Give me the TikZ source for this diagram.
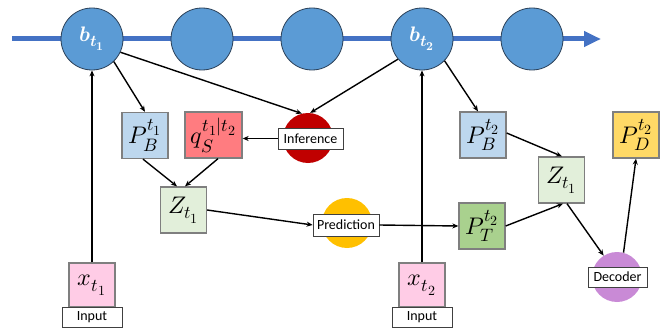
\documentclass[tikz,border=0pt]{standalone}
\usepackage{fontspec}
\usepackage{unicode-math}
\setsansfont{Carlito}
\DeclareMathSizes{24}{24}{18}{14}
\DeclareMathSizes{21}{21}{16}{12}
\usetikzlibrary{arrows.meta}
\definecolor{bcol}{HTML}{5B9BD5}
\definecolor{bdraw}{HTML}{2A3F57}
\definecolor{lcol}{HTML}{4472C4}
\definecolor{boxgray}{HTML}{7F7F7F}
\definecolor{pbcol}{HTML}{BDD7EE}
\definecolor{qcol}{HTML}{FF7C80}
\definecolor{zcol}{HTML}{E2EFDA}
\definecolor{xcol}{HTML}{FFCCE6}
\definecolor{ptcol}{HTML}{A9D18E}
\definecolor{pdcol}{HTML}{FFD966}
\definecolor{infcol}{HTML}{C00000}
\definecolor{predcol}{HTML}{FFC000}
\definecolor{deccol}{HTML}{C98AD6}
\begin{document}
\begin{tikzpicture}[x=1pt,y=-1pt,
  bnode/.style={circle, fill=bcol, draw=bdraw, line width=0.8pt, minimum size=62pt, inner sep=0pt, text=white, font=\fontsize{21}{24}\selectfont},
  vbox/.style={draw=boxgray, line width=1.3pt, minimum width=46pt, minimum height=46pt, inner sep=0pt, font=\fontsize{24}{28}\selectfont},
  blob/.style={circle, minimum size=50pt, inner sep=0pt},
  tag/.style={draw=black!75, fill=white, line width=0.8pt, inner sep=0pt, font=\sffamily\fontsize{14}{16}\selectfont},
  conn/.style={line width=1.4pt, -{Stealth[length=6pt,width=5pt]}}
]
\useasboundingbox (0,0) rectangle (667,329);
% timeline
\coordinate (ls) at (12,39);
\coordinate (le) at (601,39);
\draw[line width=5pt, color=lcol, -{Triangle[length=17pt,width=15pt]}] (ls) -- (le);
\node[bnode] (bt1) at (92,39) {$\symbfit{b}_{\symbfit{t}_{\symbf{1}}}$};
\node[bnode] (c2) at (202,39) {};
\node[bnode] (c3) at (312,39) {};
\node[bnode] (bt2) at (422,39) {$\symbfit{b}_{\symbfit{t}_{\symbf{2}}}$};
\node[bnode] (c5) at (532,39) {};
% blobs
\node[blob, fill=infcol] (infc) at (308,138) {};
\node[tag, minimum width=65pt, minimum height=21pt] (inflab) at (310.5,138.5) {Inference};
\node[blob, fill=predcol] (predc) at (347,223) {};
\node[tag, minimum width=66pt, minimum height=22pt] (predlab) at (346,225) {Prediction};
\node[blob, fill=deccol] (decc) at (617,277) {};
\node[tag, minimum width=59pt, minimum height=20pt] (declab) at (617.5,277) {Decoder};
% boxes
\node[vbox, fill=pbcol] (PB1) at (145,135.5) {$P_B^{t_1}$};
\node[vbox, fill=qcol, minimum width=57pt] (qS) at (213.5,135) {$q_S^{t_1|t_2}$};
\node[vbox, fill=zcol] (Z1) at (183.5,210) {$Z_{t_1}$};
\node[vbox, fill=xcol, minimum height=44pt] (x1) at (92,285) {$x_{t_1}$};
\node[tag, minimum width=60pt, minimum height=20pt] (in1) at (92,317) {Input};
\node[vbox, fill=xcol, minimum height=44pt] (x2) at (422,285) {$x_{t_2}$};
\node[tag, minimum width=60pt, minimum height=20pt] (in2) at (422,317) {Input};
\node[vbox, fill=ptcol] (PT) at (482,226) {$P_T^{t_2}$};
\node[vbox, fill=pbcol] (PB2) at (483,135) {$P_B^{t_2}$};
\node[vbox, fill=zcol] (Z2) at (561.5,180) {$Z_{t_1}$};
\node[vbox, fill=pdcol] (PD) at (636,135) {$P_D^{t_2}$};
% connectors
\draw[conn] (bt1.-46) -- (PB1.north);
\draw[conn] (bt1.-25) -- (infc.104);
\draw[conn] (bt2.-140) -- (infc.85);
\draw[conn] (inflab.west) -- (inflab.west -| qS.east);
\draw[conn] ([xshift=-2pt]PB1.south) -- ([xshift=-6.5pt]Z1.north);
\draw[conn] ([xshift=4.5pt]qS.south) -- ([xshift=1.5pt]Z1.north);
\draw[conn] (Z1.east) -- (predlab.west);
\draw[conn] (x1.north) -- (bt1.south);
\draw[conn] (x2.north) -- (bt2.south);
\draw[conn] (predlab.east) -- (PT.west);
\draw[conn] (bt2.-44) -- ([xshift=-5pt]PB2.north);
\draw[conn] ([yshift=2pt]PB2.east) -- ([xshift=0.5pt]Z2.north);
\draw[conn] (PT.east) -- ([xshift=1.5pt]Z2.south);
\draw[conn] ([xshift=5.5pt]Z2.south) -- (decc.122);
\draw[conn] (decc.75) -- (PD.south);
\end{tikzpicture}
\end{document}
